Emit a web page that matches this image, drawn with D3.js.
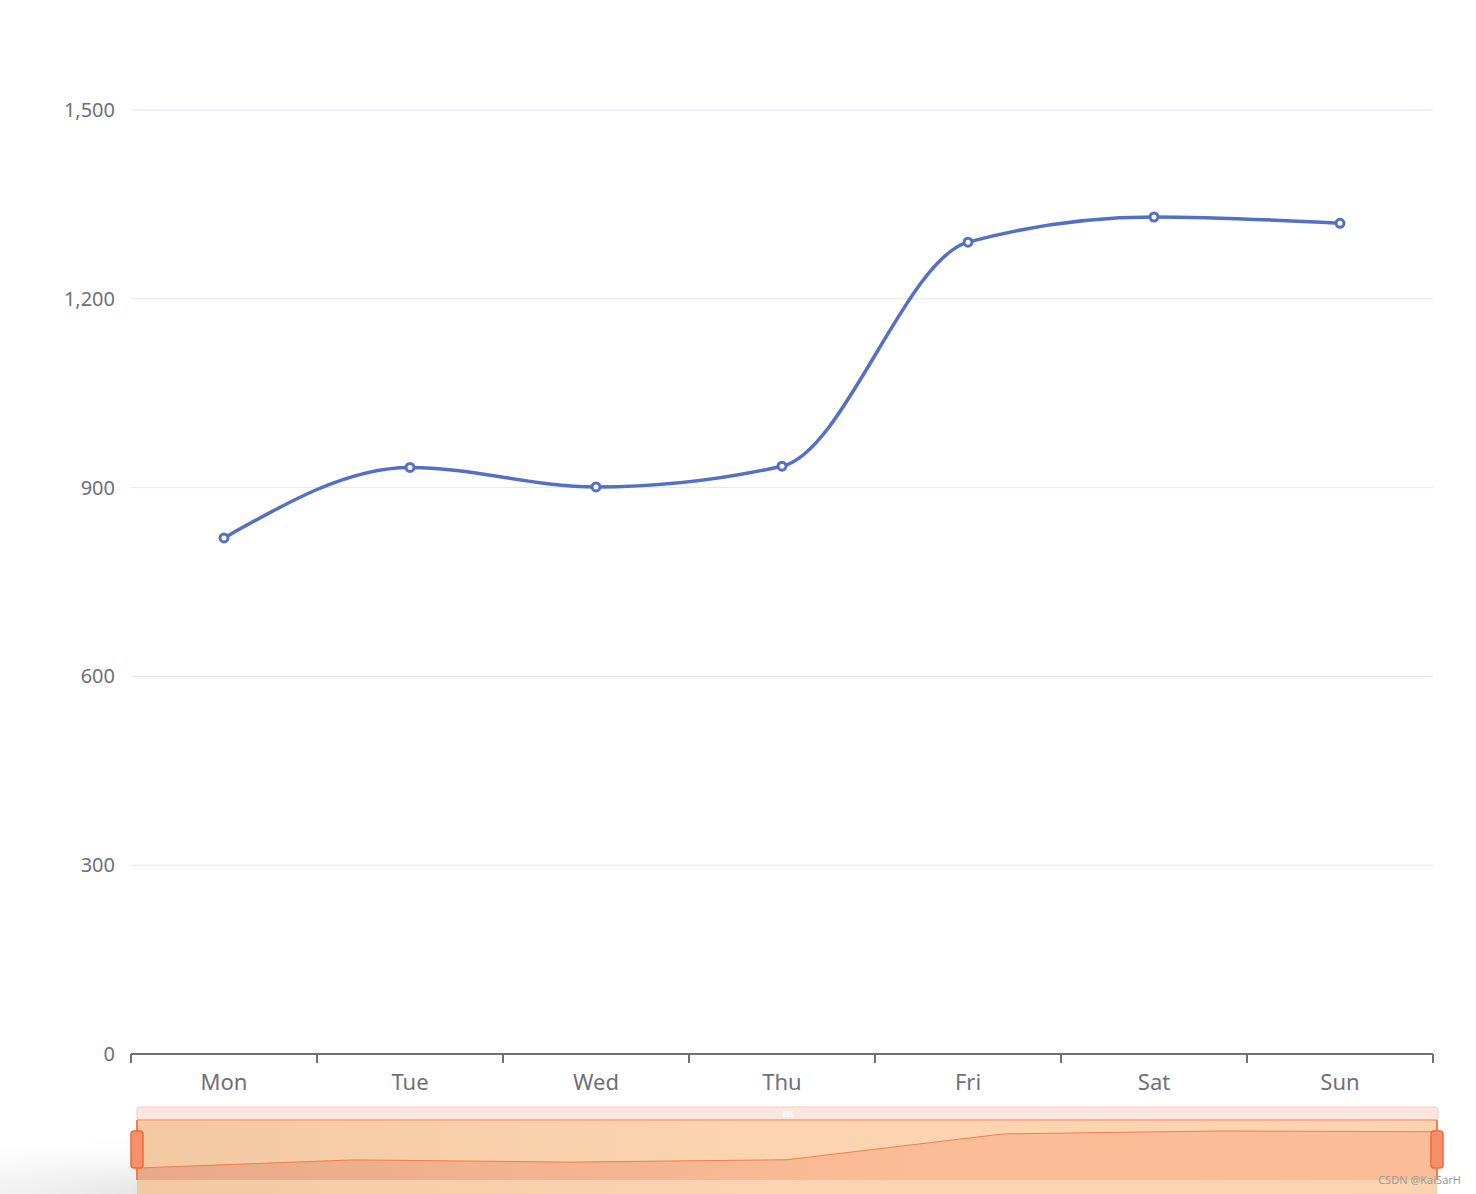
<!DOCTYPE html>
<html><head><meta charset="utf-8">
<script src="https://cdn.jsdelivr.net/npm/d3@7"></script>
<style>body{margin:0;background:#fff}svg{display:block}</style>
</head><body>
<svg id="chart" width="1476" height="1194"></svg>
<script>
// chart data
const days = ["Mon", "Tue", "Wed", "Thu", "Fri", "Sat", "Sun"];
const values = [820, 932, 901, 934, 1290, 1330, 1320];
const yTicks = [0, 300, 600, 900, 1200, 1500];

const svg = d3.select("#chart");
const font = "'Noto Sans', 'DejaVu Sans', sans-serif";

// soft grey shade at the bottom left (from the screenshot)
const defs = svg.append("defs");
const shade = defs.append("radialGradient").attr("id", "shade")
  .attr("cx", "0.3").attr("cy", "1").attr("r", "0.7");
shade.append("stop").attr("offset", "0").attr("stop-color", "#d8d8d8");
shade.append("stop").attr("offset", "1").attr("stop-color", "#fff").attr("stop-opacity", 0);
svg.append("rect").attr("x", 0).attr("y", 1100).attr("width", 900).attr("height", 94).attr("fill", "url(#shade)");

const x = d3.scaleBand().domain(days).range([131, 1433]);
const y = d3.scaleLinear().domain([0, 1500]).range([1054, 110]);

// grid lines
svg.append("g").selectAll("line").data(yTicks.slice(1)).join("line")
  .attr("x1", 131).attr("x2", 1433)
  .attr("y1", d => y(d)).attr("y2", d => y(d))
  .attr("stroke", "#e0e6f1");

svg.append("g").selectAll("text").data(yTicks).join("text")
  .attr("x", 115).attr("y", d => y(d)).attr("dy", "0.35em")
  .attr("text-anchor", "end").attr("fill", "#6e7079")
  .style("font", "20px " + font)
  .text(d => d3.format(",")(d));

// x axis
const xa = svg.append("g").attr("transform", "translate(0,1054)");
xa.append("line").attr("x1", 131).attr("x2", 1433).attr("stroke", "#6e7079").attr("stroke-width", 2);
xa.selectAll(".tk").data(d3.range(8)).join("line")
  .attr("x1", i => 131 + i * x.bandwidth()).attr("x2", i => 131 + i * x.bandwidth())
  .attr("y2", 9).attr("stroke", "#6e7079").attr("stroke-width", 2);
xa.selectAll("text").data(days).join("text")
  .attr("x", d => x(d) + x.bandwidth() / 2).attr("y", 36)
  .attr("text-anchor", "middle").attr("fill", "#6e7079")
  .style("font", "22px " + font).text(d => d);

// line
const line = d3.line().x((d, i) => x(days[i]) + x.bandwidth() / 2).y(d => y(d))
  .curve(d3.curveMonotoneX);
svg.append("path").attr("d", line(values)).attr("fill", "none")
  .attr("stroke", "#5470c6").attr("stroke-width", 3.5);
svg.append("g").selectAll("circle").data(values).join("circle")
  .attr("cx", (d, i) => x(days[i]) + x.bandwidth() / 2).attr("cy", d => y(d))
  .attr("r", 4).attr("fill", "#fff").attr("stroke", "#5470c6").attr("stroke-width", 3);

// data zoom slider
const mx = d3.scaleLinear().domain([0, days.length - 1]).range([137, 1437]);
const my = d3.scaleLinear().domain([820, 1330]).range([1168, 1131]);
const bg = defs.append("linearGradient").attr("id", "zbg");
bg.append("stop").attr("offset", "0").attr("stop-color", "#f3c9a2");
bg.append("stop").attr("offset", "0.5").attr("stop-color", "#fcd5b0");
bg.append("stop").attr("offset", "1").attr("stop-color", "#fcd3b0");
const fg = defs.append("linearGradient").attr("id", "zfg");
fg.append("stop").attr("offset", "0").attr("stop-color", "#e8a988");
fg.append("stop").attr("offset", "0.6").attr("stop-color", "#fbbd98");
fg.append("stop").attr("offset", "1").attr("stop-color", "#fbbd98");

svg.append("rect").attr("x", 137).attr("y", 1107).attr("width", 1301).attr("height", 13)
  .attr("rx", 3).attr("fill", "#fee6e0").attr("stroke", "#fcc7ba");
svg.append("text").attr("x", 788).attr("y", 1117).attr("text-anchor", "middle")
  .attr("fill", "#fff").style("font", "bold 9px " + font).text("III");
svg.append("rect").attr("x", 137).attr("y", 1120).attr("width", 1300).attr("height", 74)
  .attr("fill", "url(#zbg)");
const area = d3.area().x((d, i) => mx(i)).y0(1180).y1(d => my(d));
svg.append("path").attr("d", area(values)).attr("fill", "url(#zfg)");
svg.append("path").attr("d", d3.line().x((d, i) => mx(i)).y(d => my(d))(values))
  .attr("fill", "none").attr("stroke", "#f27c4f").attr("stroke-width", 1);
svg.append("line").attr("x1", 137).attr("x2", 1437).attr("y1", 1120).attr("y2", 1120)
  .attr("stroke", "#f7a47f").attr("stroke-width", 1.5);
[137, 1437].forEach(hx => {
  svg.append("line").attr("x1", hx).attr("x2", hx).attr("y1", 1120).attr("y2", 1180)
    .attr("stroke", "#f27c4f").attr("stroke-width", 2);
  svg.append("rect").attr("x", hx - 6).attr("y", 1131).attr("width", 12).attr("height", 37)
    .attr("rx", 3).attr("fill", "#f4906a").attr("stroke", "#f2673a").attr("stroke-width", 1.5);
});

svg.append("text").attr("x", 1461).attr("y", 1184).attr("text-anchor", "end")
  .attr("fill", "#999").style("font", "11px " + font).text("CSDN @KaiSarH");
</script>
</body></html>
